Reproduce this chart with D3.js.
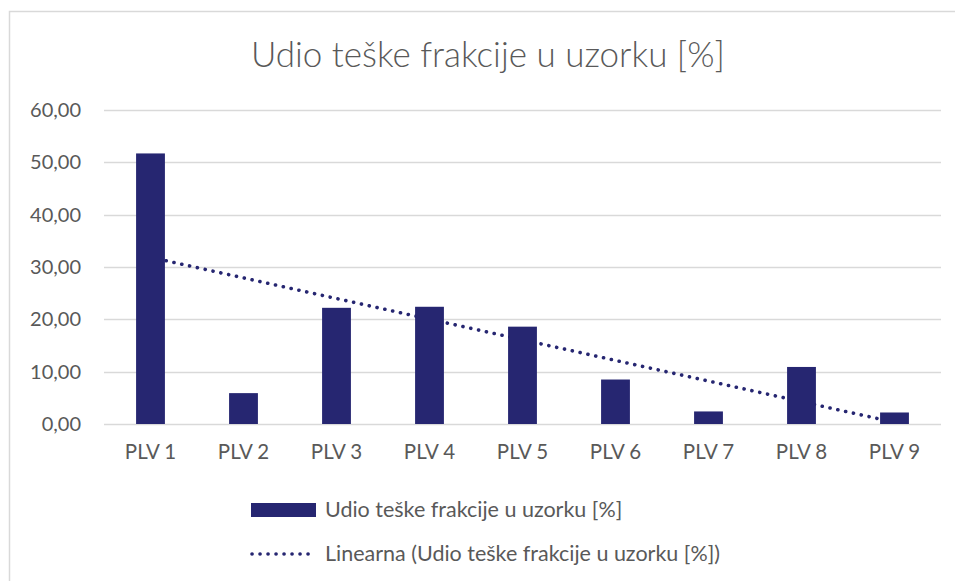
<!DOCTYPE html>
<html>
<head>
<meta charset="utf-8">
<script src="https://cdn.jsdelivr.net/npm/d3@7"></script>
<style>
  body { margin: 0; background: #fff; }
  text { font-family: Lato, "Open Sans", sans-serif; fill: #595959; }
</style>
</head>
<body>
<svg id="mainSvg" width="955" height="581"></svg>
<script>
// data
var categories = ["PLV 1", "PLV 2", "PLV 3", "PLV 4", "PLV 5", "PLV 6", "PLV 7", "PLV 8", "PLV 9"];
var values = [51.7, 5.9, 22.2, 22.4, 18.6, 8.5, 2.4, 10.9, 2.2];
var yTicks = [0, 10, 20, 30, 40, 50, 60];
var titleText = "Udio teške frakcije u uzorku [%]";
var seriesName = "Udio teške frakcije u uzorku [%]";
var trendName = "Linearna (Udio teške frakcije u uzorku [%])";

var barColor = "#262671";

var margin = {top: 110, left: 104, right: 14, bottom: 157};
var width = 955 - margin.left - margin.right,
    height = 581 - margin.top - margin.bottom;

var svg = d3.select("#mainSvg");

// chart area border
svg.append("path")
  .attr("d", "M9.5,581 V11.5 H955")
  .attr("fill", "none")
  .attr("stroke", "#d9d9d9")
  .attr("stroke-width", 1.5);

svg.append("text")
  .attr("x", 488)
  .attr("y", 67)
  .attr("text-anchor", "middle")
  .style("font-size", "35px")
  .style("font-weight", 300)
  .text(titleText);

var g = svg.append("g")
  .attr("transform", "translate(" + margin.left + "," + margin.top + ")");

var x = d3.scaleBand()
  .domain(categories)
  .range([0, width])
  .paddingInner(0.69)
  .paddingOuter(0.345);

var y = d3.scaleLinear().domain([0, 60]).range([height, 0]);

// gridlines
g.selectAll(".grid")
  .data(yTicks)
  .enter()
  .append("line")
  .attr("class", "grid")
  .attr("x1", 0)
  .attr("x2", width)
  .attr("y1", function (d) { return Math.round(y(d)) + 0.5; })
  .attr("y2", function (d) { return Math.round(y(d)) + 0.5; })
  .attr("stroke", "#d9d9d9")
  .attr("stroke-width", 1.5);

// y axis labels
var yAxis = d3.axisLeft(y)
  .tickValues(yTicks)
  .tickSize(0)
  .tickPadding(23)
  .tickFormat(function (d) { return d3.format(".2f")(d).replace(".", ","); });

var yg = g.append("g").call(yAxis);
yg.select(".domain").remove();
yg.selectAll("text").style("font-size", "20px").attr("fill", "#595959");

// x axis labels
var xAxis = d3.axisBottom(x).tickSize(0).tickPadding(20);
var xg = g.append("g")
  .attr("transform", "translate(0," + height + ")")
  .call(xAxis);
xg.select(".domain").remove();
xg.selectAll("text").style("font-size", "20.5px").attr("fill", "#595959");

// linear trend (least squares on the bar values), drawn under the bars
var n = values.length;
var xs = d3.range(1, n + 1);
var mx = d3.mean(xs), my = d3.mean(values);
var slope = d3.sum(xs, function (v, i) { return (v - mx) * (values[i] - my); }) /
            d3.sum(xs, function (v) { return (v - mx) * (v - mx); });
var icpt = my - slope * mx;
var trend = [categories[0], categories[n - 1]].map(function (c, i) {
  var k = i === 0 ? 1 : n;
  return {cat: c, val: icpt + slope * k};
});

var trendLine = d3.line()
  .x(function (d) { return x(d.cat) + x.bandwidth() / 2; })
  .y(function (d) { return y(d.val); });

g.append("path")
  .attr("d", trendLine(trend))
  .attr("fill", "none")
  .attr("stroke", barColor)
  .attr("stroke-width", 3.6)
  .attr("stroke-linecap", "round")
  .attr("stroke-dasharray", "0.1,7.9");

// bars
g.selectAll(".bar")
  .data(values)
  .enter()
  .append("rect")
  .attr("class", "bar")
  .attr("x", function (d, i) { return x(categories[i]); })
  .attr("y", function (d) { return y(d); })
  .attr("width", x.bandwidth())
  .attr("height", function (d) { return height - y(d); })
  .attr("fill", barColor);

// legend
var legend = svg.append("g");
legend.append("rect")
  .attr("x", 251).attr("y", 503)
  .attr("width", 65).attr("height", 14)
  .attr("fill", barColor);
legend.append("text")
  .attr("x", 325).attr("y", 517)
  .style("font-size", "21.5px")
  .text(seriesName);

legend.append("line")
  .attr("x1", 252).attr("x2", 316)
  .attr("y1", 554).attr("y2", 554)
  .attr("stroke", barColor)
  .attr("stroke-width", 3.6)
  .attr("stroke-linecap", "round")
  .attr("stroke-dasharray", "0.1,7.9");
legend.append("text")
  .attr("x", 325).attr("y", 561)
  .style("font-size", "21.5px")
  .text(trendName);
</script>
</body>
</html>
